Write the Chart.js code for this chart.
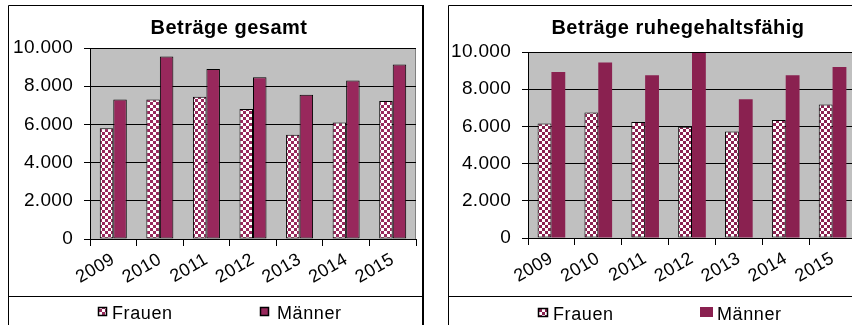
<!DOCTYPE html>
<html>
<head>
<meta charset="utf-8">
<script src="https://cdn.jsdelivr.net/npm/chart.js@4/dist/chart.umd.min.js"></script>
<style>
  html, body { margin: 0; padding: 0; background: #fff; width: 852px; height: 325px; overflow: hidden; }
  canvas { position: absolute; top: 0; }
</style>
</head>
<body>
<canvas id="gesamt" width="430" height="325" style="left:0px"></canvas>
<canvas id="ruhe" width="430" height="325" style="left:440px"></canvas>
<script>
// Jahre (Kategorien)
const years = ['2009', '2010', '2011', '2012', '2013', '2014', '2015'];
// Beträge gesamt
const gesamtFrauen  = [5800, 7300, 7450, 6800, 5460, 6100, 7230];
const gesamtMaenner = [7300, 9550, 8900, 8470, 7550, 8300, 9130];
// Beträge ruhegehaltsfähig
const ruheFrauen  = [6160, 6750, 6230, 5980, 5730, 6340, 7180];
const ruheMaenner = [8920, 9440, 8750, 9950, 7460, 8750, 9190];
// Serien und Achse
const seriesNames = ['Frauen', 'Männer'];
const yMax = 10000;
const yStep = 2000;

const FONT = "'Liberation Sans', Arial, sans-serif";
const CANVAS_H = 325;

function checker(color) {
  const c = document.createElement('canvas');
  c.width = 6; c.height = 6;
  const g = c.getContext('2d');
  g.fillStyle = '#fff'; g.fillRect(0, 0, 6, 6);
  g.fillStyle = color;
  g.fillRect(0, 0, 3, 3);
  g.fillRect(3, 3, 3, 3);
  return g.createPattern(c, 'repeat');
}

function fmt(v) {
  return String(v).replace(/\B(?=(\d{3})+(?!\d))/g, '.');
}

function makeChart(id, offset, s) {
  const canvas = document.getElementById(id);
  const W = canvas.width;
  const pattern = checker(s.plum);

  const decor = {
    id: 'decor',
    beforeDraw(chart) {
      const ctx = chart.ctx;
      const a = chart.chartArea;
      ctx.letterSpacing = '0.3px';
      ctx.save();
      ctx.fillStyle = '#c0c0c0';
      ctx.fillRect(a.left, a.top, a.right - a.left, a.bottom - a.top);
      ctx.strokeStyle = '#808080';
      ctx.lineWidth = 1;
      ctx.strokeRect(Math.round(a.left) + 0.5, Math.round(a.top) + 0.5,
                     Math.round(a.right - a.left) - 1, Math.round(a.bottom - a.top));
      ctx.restore();
    },
    afterDraw(chart) {
      const ctx = chart.ctx;
      ctx.save();
      // Rahmen
      ctx.strokeStyle = '#000';
      ctx.lineWidth = 1;
      const fl = s.frameLeft - offset + 0.5;
      const fr = s.frameRight !== null ? s.frameRight - offset : W;
      ctx.beginPath();
      ctx.moveTo(fl, CANVAS_H + 2);
      ctx.lineTo(fl, 5.5);
      ctx.lineTo(fr, 5.5);
      ctx.stroke();
      if (s.frameRight !== null) {
        ctx.lineWidth = 2;
        ctx.beginPath();
        ctx.moveTo(fr, 5);
        ctx.lineTo(fr, CANVAS_H + 2);
        ctx.stroke();
      }
      // Legendenrahmen
      ctx.lineWidth = 1;
      ctx.beginPath();
      ctx.moveTo(fl, s.legendLine + 0.5);
      ctx.lineTo(fr, s.legendLine + 0.5);
      ctx.stroke();

      // Titel
      ctx.letterSpacing = '0.5px';
      ctx.font = 'bold 20px ' + FONT;
      ctx.fillStyle = '#000';
      ctx.textAlign = 'center';
      ctx.textBaseline = 'middle';
      ctx.fillText(s.title, s.titleX - offset, 28);

      // Legende
      ctx.letterSpacing = '0.6px';
      ctx.font = '18px ' + FONT;
      ctx.textAlign = 'left';
      chart.data.datasets.forEach((ds, i) => {
        const it = s.legend[i];
        const x = it.sx - offset;
        ctx.fillStyle = ds.backgroundColor;
        ctx.fillRect(x, it.sy, it.sw, it.sh);
        if (ds.borderWidth > 0) {
          ctx.strokeStyle = '#000';
          ctx.lineWidth = 1.5;
          ctx.strokeRect(x + 0.5, it.sy + 0.5, it.sw - 1, it.sh - 1);
        }
        ctx.fillStyle = '#000';
        ctx.fillText(ds.label, it.tx - offset, s.legendTextY);
      });
      ctx.restore();
    }
  };

  return new Chart(canvas, {
    type: 'bar',
    data: {
      labels: years,
      datasets: [
        { label: seriesNames[0], data: s.frauen, backgroundColor: pattern,
          borderColor: '#000', borderWidth: 1, borderSkipped: false },
        { label: seriesNames[1], data: s.maenner, backgroundColor: s.plum,
          borderColor: '#000', borderWidth: s.maennerBorder, borderSkipped: false }
      ]
    },
    options: {
      responsive: false,
      animation: false,
      events: [],
      datasets: { bar: { categoryPercentage: s.catPct, barPercentage: 1 } },
      layout: { padding: { left: 0, top: s.plot.t, right: W - (s.plot.r - offset), bottom: 0 } },
      plugins: { legend: { display: false }, tooltip: { enabled: false }, title: { display: false } },
      scales: {
        x: {
          afterFit(sc) { sc.height = CANVAS_H - s.plot.b; },
          ticks: { color: '#000', font: { family: FONT, size: 18 }, minRotation: 30, maxRotation: 30,
                   autoSkip: false, padding: 3 },
          grid: { display: true, drawOnChartArea: false, drawTicks: true, tickLength: 7,
                  color: '#000', offset: true },
          border: { color: '#000', width: 1 }
        },
        y: {
          min: 0, max: yMax,
          afterFit(sc) { sc.width = s.plot.l - offset; },
          ticks: { stepSize: yStep, color: '#000', font: { family: FONT, size: 19 }, padding: 11,
                   callback: v => fmt(v) },
          grid: { color: '#000', lineWidth: 1, tickLength: 6, drawTicks: true },
          border: { color: '#000', width: 1 }
        }
      }
    },
    plugins: [decor]
  });
}

makeChart('gesamt', 0, {
  title: 'Beträge gesamt',
  frauen: gesamtFrauen, maenner: gesamtMaenner,
  plum: '#98285c', maennerBorder: 1, catPct: 0.58,
  plot: { l: 90, r: 416, t: 48, b: 239 },
  frameLeft: 8, frameRight: 423,
  titleX: 229, legendLine: 296, legendTextY: 314,
  legend: [ { sx: 98, sy: 307, sw: 9, sh: 9, tx: 112 },
            { sx: 260, sy: 307, sw: 9, sh: 9, tx: 277 } ]
});

makeChart('ruhe', 440, {
  title: 'Beträge ruhegehaltsfähig',
  frauen: ruheFrauen, maenner: ruheMaenner,
  plum: '#8a2150', maennerBorder: 0, catPct: 0.59,
  plot: { l: 528, r: 856, t: 52, b: 238 },
  frameLeft: 448, frameRight: null,
  titleX: 678, legendLine: 296, legendTextY: 315,
  legend: [ { sx: 538, sy: 308, sw: 10, sh: 9, tx: 553 },
            { sx: 700, sy: 307, sw: 13, sh: 10, tx: 717 } ]
});
</script>
</body>
</html>
